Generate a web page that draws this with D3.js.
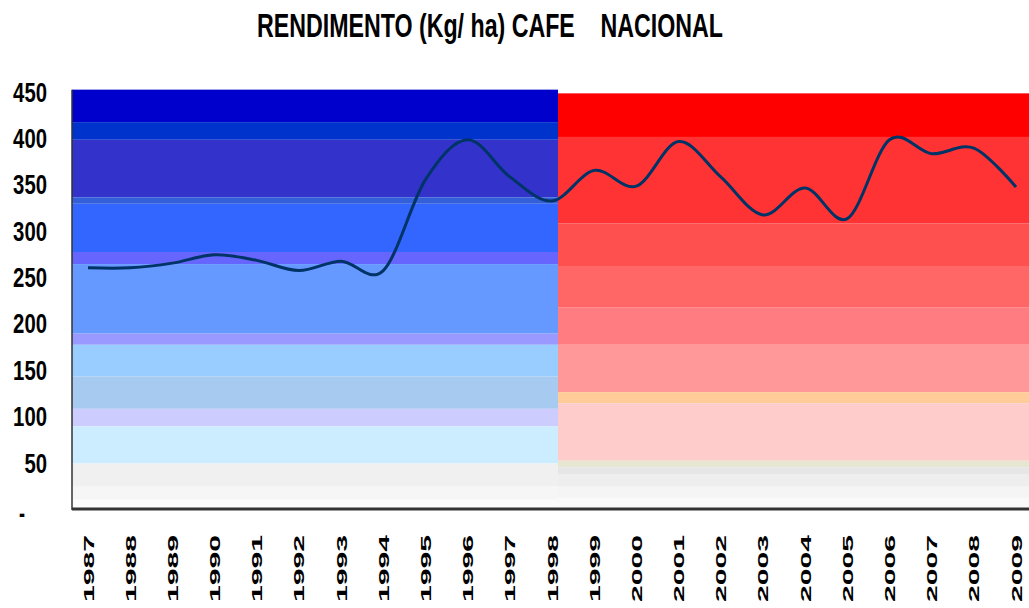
<!DOCTYPE html>
<html>
<head>
<meta charset="utf-8">
<script src="https://cdn.jsdelivr.net/npm/d3@7"></script>
<style>
  html, body { margin: 0; padding: 0; background: #fff; overflow: hidden; }
  svg { display: block; }
  text { font-family: "Liberation Sans", Arial, sans-serif; font-weight: bold; fill: #000; }
</style>
</head>
<body>
<script>
// data
const years = ['1987', '1988', '1989', '1990', '1991', '1992', '1993', '1994', '1995', '1996', '1997', '1998',
	'1999', '2000', '2001', '2002', '2003', '2004', '2005', '2006', '2007', '2008', '2009'];
const yields = [260, 260, 265, 274, 268, 257, 267, 257, 355, 398, 358, 332,
	365, 348, 396, 358, 317, 346, 313, 398, 383, 389, 347];
const yTicks = [0, 50, 100, 150, 200, 250, 300, 350, 400, 450];
const title = 'RENDIMENTO (Kg/ ha) CAFE    NACIONAL';
const splitYear = '1998';

// background bands [from, to, colour] in kg/ha
const blueBands = [
	[452, 417, '#0000cc'], [417, 398, '#0033cc'], [398, 336, '#3333cc'], [336, 329, '#3360d8'],
	[329, 277, '#3366ff'], [277, 264, '#6666ff'], [264, 189, '#6699ff'], [189, 177, '#9999ff'],
	[177, 143, '#99ccff'], [143, 108, '#a6caf0'], [108, 89, '#ccccff'], [89, 49, '#ccecff'],
	[49, 24, '#f0f0f0'], [24, 10, '#f6f6f6'], [10, 0, '#fbfbfb']
];
const redBands = [
	[448, 401, '#ff0000'], [401, 308, '#ff3333'], [308, 261, '#ff5050'], [261, 217, '#ff6666'],
	[217, 177, '#ff7c80'], [177, 126, '#ff9999'], [126, 114, '#ffcc99'], [114, 52, '#ffcccc'],
	[52, 45, '#e6e6d2'], [45, 37, '#e6e6e6'], [37, 24, '#eeeeee'], [24, 12, '#f5f5f5'], [12, 2, '#fafafa']
];

const width = 1029, height = 608;
const plotLeft = 72, plotRight = 1029;

const svg = d3.select('body')
	.append('svg')
	.attr('width', width)
	.attr('height', height);

const x = d3.scalePoint().domain(years).range([88, 1016]);
const y = d3.scaleLinear().domain([0, 450]).range([509, 91.5]);
const splitX = x(splitYear) + 6;

// backgrounds
svg.append('g').selectAll('rect')
	.data(blueBands)
	.join('rect')
	.attr('x', plotLeft)
	.attr('width', splitX - plotLeft)
	.attr('y', d => y(d[0]))
	.attr('height', d => y(d[1]) - y(d[0]))
	.attr('fill', d => d[2]);

svg.append('g').selectAll('rect')
	.data(redBands)
	.join('rect')
	.attr('x', splitX)
	.attr('width', plotRight - splitX)
	.attr('y', d => y(d[0]))
	.attr('height', d => y(d[1]) - y(d[0]))
	.attr('fill', d => d[2]);

// line
const line = d3.line()
	.x((d, i) => x(years[i]))
	.y(d => y(d))
	.curve(d3.curveCardinal.tension(0));

svg.append('path')
	.datum(yields)
	.attr('d', line)
	.attr('fill', 'none')
	.attr('stroke', '#003366')
	.attr('stroke-width', 3)
	.attr('stroke-linejoin', 'round');

// frame
svg.append('line')
	.attr('x1', plotLeft).attr('x2', plotLeft)
	.attr('y1', y(452)).attr('y2', y(0) + 1)
	.attr('stroke', '#333').attr('stroke-width', 1.5);
svg.append('line')
	.attr('x1', plotLeft).attr('x2', plotRight)
	.attr('y1', y(0)).attr('y2', y(0))
	.attr('stroke', '#333').attr('stroke-width', 3);

// y labels
svg.append('g').selectAll('text')
	.data(yTicks)
	.join('text')
	.attr('x', d => d === 0 ? 25 : 47)
	.attr('y', d => y(d) + (d === 0 ? 14 : 10))
	.attr('text-anchor', 'end')
	.attr('font-size', 28)
	.attr('textLength', d => d === 0 ? 6 : String(d).length * 11.3)
	.attr('lengthAdjust', 'spacingAndGlyphs')
	.text(d => d === 0 ? '-' : d);

// x labels
svg.append('g').selectAll('text')
	.data(years)
	.join('text')
	.attr('transform', d => `translate(${x(d) + 5.5},535) rotate(-90)`)
	.attr('text-anchor', 'end')
	.attr('font-size', 15.5)
	.attr('textLength', 67)
	.attr('lengthAdjust', 'spacingAndGlyphs')
	.text(d => d);

// title
svg.append('text')
	.attr('x', 257)
	.attr('y', 37)
	.attr('font-size', 33)
	.attr('textLength', 466)
	.attr('lengthAdjust', 'spacingAndGlyphs')
	.style('white-space', 'pre')
	.text(title);
</script>
</body>
</html>
